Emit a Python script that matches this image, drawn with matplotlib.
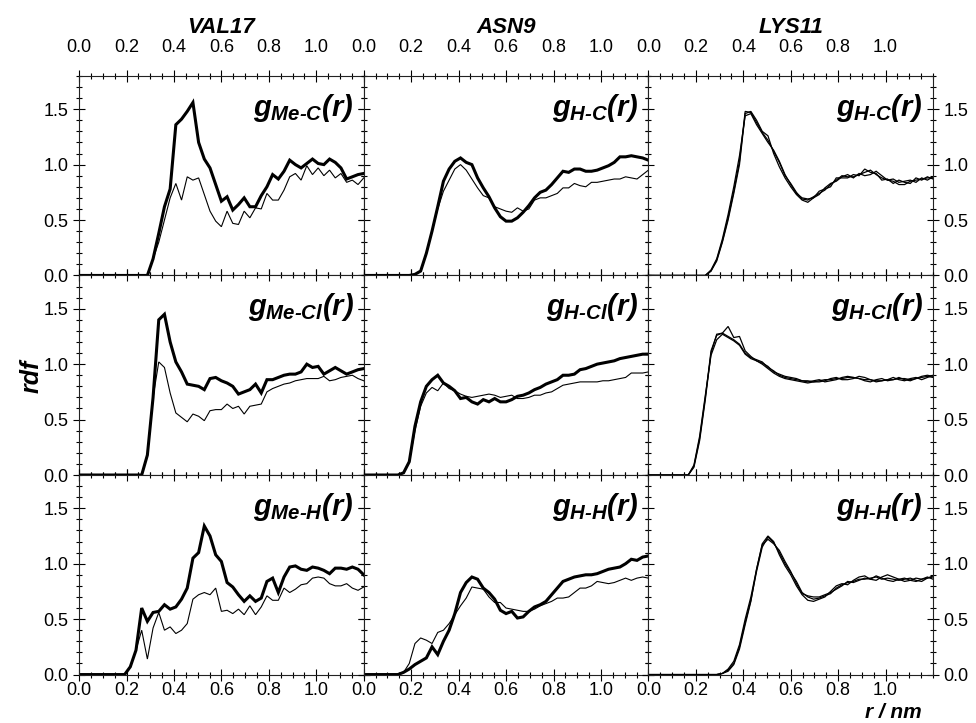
import numpy as np
import matplotlib
matplotlib.use('Agg')
import matplotlib.pyplot as plt
from matplotlib.ticker import MultipleLocator, FixedLocator, FormatStrFormatter

plt.rcParams['font.family'] = ['Liberation Sans', 'DejaVu Sans']
plt.rcParams['mathtext.fontset'] = 'custom'
plt.rcParams['mathtext.it'] = 'Liberation Sans:bold:italic'
plt.rcParams['mathtext.rm'] = 'Liberation Sans:bold:italic'
plt.rcParams['mathtext.bf'] = 'Liberation Sans:bold:italic'

# r bins (nm)
R = np.linspace(0.0, 1.2, 51)

COLUMNS = ['VAL17', 'ASN9', 'LYS11']

# VAL17
val_mec_a = [0.0] * 13 + [.15, .38, .62, .78, 1.36, 1.41, 1.48, 1.56, 1.20, 1.05, .97, .82, .67, .71, .59, .64,
                          .70, .62, .62, .72, .80, .91, .87, .94, 1.04, 1.0, .97, 1.01, 1.05, 1.01, 1.0, 1.05,
                          1.02, .97, .87, .89, .91, .92]
val_mec_b = [0.0] * 13 + [.15, .30, .50, .70, .83, .68, .89, .86, .88, .73, .58, .49, .44, .58, .47, .46,
                          .58, .52, .61, .60, .74, .68, .68, .77, .89, .92, .86, .99, .91, .97, .90, .95,
                          .88, .92, .84, .86, .82, .88]
val_mecl_a = [0.0] * 12 + [.18, .70, 1.40, 1.45, 1.20, 1.02, .93, .82, .81, .80, .77, .87, .88, .85, .83, .80,
                           .73, .75, .77, .82, .74, .86, .86, .88, .90, .91, .91, .93, 1.0, .97, .98, .91,
                           .94, .97, .94, .91, .93, .95, .96]
val_mecl_b = [0.0] * 12 + [.18, .70, 1.02, .97, .74, .56, .52, .48, .55, .53, .49, .58, .59, .59, .64, .60,
                           .62, .55, .62, .63, .64, .75, .78, .80, .82, .83, .85, .86, .87, .87, .87, .89,
                           .85, .86, .88, .89, .90, .87, .85]
val_meh_a = [0.0] * 9 + [.07, .22, .60, .48, .56, .57, .63, .59, .61, .68, .78, 1.05, 1.10, 1.34, 1.25, 1.08,
                         1.02, .83, .79, .72, .66, .71, .66, .69, .84, .87, .74, .88, .97, .98, .95, .94,
                         .97, .96, .94, .91, .96, .96, .95, .97, .95, .90]
val_meh_b = [0.0] * 9 + [.07, .22, .40, .14, .42, .56, .40, .43, .37, .40, .46, .68, .72, .74, .72, .78,
                         .57, .58, .55, .59, .54, .62, .54, .61, .71, .67, .67, .78, .74, .77, .81, .82,
                         .87, .88, .87, .82, .80, .80, .82, .78, .76, .79]

# ASN9
asn_hc_a = [0.0] * 9 + [.01, .04, .20, .40, .62, .85, .96, 1.03, 1.06, 1.02, 1.0, .88, .79, .71, .61, .53,
                        .49, .49, .52, .57, .63, .70, .75, .77, .82, .88, .94, .93, .96, .96, .94, .94,
                        .95, .97, .99, 1.02, 1.07, 1.07, 1.08, 1.07, 1.06, 1.04]
asn_hc_b = [0.0] * 9 + [.01, .04, .20, .40, .60, .76, .86, .96, 1.0, .95, .87, .79, .72, .70, .62, .60,
                        .58, .57, .61, .58, .60, .68, .70, .70, .72, .74, .79, .79, .83, .81, .80, .84,
                        .84, .85, .86, .87, .87, .89, .88, .87, .91, .95]
asn_hcl_a = [0.0] * 7 + [.02, .12, .44, .66, .80, .86, .90, .83, .80, .76, .69, .70, .66, .64, .68, .66,
                         .69, .66, .66, .68, .71, .72, .74, .77, .79, .82, .84, .86, .90, .90, .91, .95,
                         .96, .98, 1.0, 1.01, 1.02, 1.03, 1.05, 1.06, 1.07, 1.08, 1.09, 1.09]
asn_hcl_b = [0.0] * 7 + [.02, .12, .40, .62, .74, .79, .76, .83, .78, .76, .73, .71, .70, .71, .72, .73,
                         .72, .70, .71, .72, .69, .69, .70, .72, .72, .74, .75, .78, .81, .82, .83, .84,
                         .84, .84, .84, .85, .85, .86, .87, .88, .92, .92, .92, .93]
asn_hh_a = [0.0] * 7 + [.02, .05, .09, .12, .15, .25, .18, .30, .40, .55, .74, .83, .88, .86, .78, .74,
                        .68, .58, .55, .57, .51, .52, .57, .61, .63, .66, .72, .78, .84, .86, .88, .89,
                        .90, .90, .91, .93, .95, .96, .97, 1.0, 1.04, 1.03, 1.06, 1.07]
asn_hh_b = [0.0] * 7 + [.02, .10, .28, .33, .31, .28, .38, .40, .46, .54, .62, .69, .79, .78, .77, .70,
                        .65, .65, .60, .59, .58, .57, .57, .59, .62, .64, .66, .69, .69, .70, .74, .78,
                        .78, .80, .84, .83, .82, .83, .85, .87, .85, .87, .88, .87]

# LYS11 (three runs)
lys_hc_a = [0.0] * 11 + [.04, .14, .31, .52, .76, 1.03, 1.48, 1.47, 1.38, 1.29, 1.22, 1.12, 1.02, .90, .83, .75,
                         .69, .68, .71, .74, .77, .82, .86, .90, .89, .89, .91, .93, .95, .91, .88, .86,
                         .85, .82, .82, .85, .86, .87, .88, .88]
lys_hc_b = [0.0] * 11 + [.04, .13, .30, .50, .74, 1.00, 1.46, 1.48, 1.40, 1.30, 1.26, 1.10, .98, .88, .80, .73,
                         .68, .66, .70, .76, .78, .80, .88, .88, .88, .91, .90, .96, .93, .92, .86, .87,
                         .83, .86, .84, .83, .88, .86, .89, .87]
lys_hc_c = [0.0] * 11 + [.05, .15, .33, .55, .80, 1.08, 1.44, 1.46, 1.36, 1.28, 1.20, 1.13, 1.03, .91, .82, .74,
                         .70, .69, .70, .73, .79, .83, .85, .89, .91, .88, .92, .90, .91, .94, .90, .86,
                         .87, .84, .85, .86, .84, .88, .86, .89]
lys_hcl_a = [0.0] * 8 + [.08, .33, .70, 1.12, 1.26, 1.28, 1.25, 1.22, 1.18, 1.10, 1.06, 1.04, 1.02, .97, .94, .90,
                         .88, .87, .86, .85, .85, .84, .85, .86, .86, .87, .87, .88, .88, .87, .86, .86,
                         .85, .85, .86, .86, .87, .87, .86, .87, .88, .89, .88]
lys_hcl_b = [0.0] * 8 + [.07, .31, .68, 1.10, 1.27, 1.28, 1.34, 1.24, 1.25, 1.12, 1.07, 1.03, 1.01, .98, .93, .91,
                         .89, .88, .87, .85, .84, .85, .86, .84, .85, .86, .88, .89, .88, .87, .85, .84,
                         .86, .87, .85, .86, .88, .86, .85, .87, .89, .90, .89]
lys_hcl_c = [0.0] * 8 + [.09, .35, .72, 1.08, 1.22, 1.27, 1.24, 1.21, 1.17, 1.09, 1.05, 1.03, 1.0, .96, .92, .89,
                         .87, .86, .85, .84, .83, .84, .84, .85, .87, .88, .86, .86, .87, .89, .88, .86,
                         .84, .85, .86, .88, .86, .85, .87, .88, .86, .88, .90]
lys_hh_a = [0.0] * 13 + [.01, .04, .10, .25, .47, .67, .93, 1.15, 1.24, 1.19, 1.10, 1.0, .92, .84, .74, .70,
                         .68, .69, .71, .73, .78, .81, .83, .84, .86, .86, .87, .88, .86, .87, .86, .85,
                         .86, .87, .85, .84, .87, .88]
lys_hh_b = [0.0] * 13 + [.01, .03, .09, .23, .45, .66, .95, 1.18, 1.25, 1.20, 1.08, .98, .90, .80, .72, .67,
                         .66, .68, .70, .75, .80, .82, .81, .85, .88, .89, .86, .85, .88, .90, .88, .86,
                         .84, .85, .87, .86, .88, .86]
lys_hh_c = [0.0] * 13 + [.01, .05, .12, .27, .50, .70, .95, 1.17, 1.22, 1.18, 1.12, 1.02, .93, .82, .73, .71,
                         .70, .70, .72, .74, .77, .80, .84, .83, .85, .87, .86, .89, .87, .85, .84, .86,
                         .87, .85, .84, .86, .87, .89]

PANEL_LABELS = [
    [r'$g_{\text{Me-C}}(r)$', r'$g_{\text{H-C}}(r)$', r'$g_{\text{H-C}}(r)$'],
    [r'$g_{\text{Me-Cl}}(r)$', r'$g_{\text{H-Cl}}(r)$', r'$g_{\text{H-Cl}}(r)$'],
    [r'$g_{\text{Me-H}}(r)$', r'$g_{\text{H-H}}(r)$', r'$g_{\text{H-H}}(r)$'],
]

# (values, linewidth) per panel
PANELS = [
    [[(val_mec_a, 2.2), (val_mec_b, 0.8)],
     [(asn_hc_a, 2.2), (asn_hc_b, 0.8)],
     [(lys_hc_a, 0.9), (lys_hc_b, 0.9), (lys_hc_c, 0.9)]],
    [[(val_mecl_a, 2.2), (val_mecl_b, 0.8)],
     [(asn_hcl_a, 2.2), (asn_hcl_b, 0.8)],
     [(lys_hcl_a, 0.9), (lys_hcl_b, 0.9), (lys_hcl_c, 0.9)]],
    [[(val_meh_a, 2.2), (val_meh_b, 0.8)],
     [(asn_hh_a, 2.2), (asn_hh_b, 0.8)],
     [(lys_hh_a, 0.9), (lys_hh_b, 0.9), (lys_hh_c, 0.9)]],
]

fig = plt.figure(figsize=(9.76, 7.23), dpi=100)
axes = fig.subplots(3, 3, gridspec_kw=dict(wspace=0, hspace=0, left=0.081, right=0.956,
                                            top=0.895, bottom=0.067))

for i in range(3):
    for j in range(3):
        ax = axes[i, j]
        for vals, lw in PANELS[i][j]:
            assert len(vals) == len(R)
            ax.plot(R, vals, color='black', lw=lw, solid_joinstyle='miter')
        ax.set_xlim(0, 1.2)
        ax.set_ylim(0, 1.8)
        ax.xaxis.set_major_locator(FixedLocator([0.0, 0.2, 0.4, 0.6, 0.8, 1.0]))
        ax.xaxis.set_minor_locator(MultipleLocator(0.05))
        ax.yaxis.set_major_locator(FixedLocator([0.0, 0.5, 1.0, 1.5]))
        ax.yaxis.set_minor_locator(MultipleLocator(0.1))
        ax.tick_params(which='both', direction='inout', top=True, right=True, bottom=True, left=True,
                       width=0.8, labelsize=13,
                       labelbottom=(i == 2), labeltop=(i == 0),
                       labelleft=(j == 0), labelright=(j == 2))
        ax.tick_params(which='major', length=8)
        ax.tick_params(which='minor', length=4)
        ax.tick_params(axis='x', which='major', pad=1.5)
        ax.xaxis.set_major_formatter(FormatStrFormatter('%.1f'))
        ax.yaxis.set_major_formatter(FormatStrFormatter('%.1f'))
        for s in ax.spines.values():
            s.set_linewidth(0.8)
            s.set_color('#222222')
        ax.text(0.965, 0.8, PANEL_LABELS[i][j], transform=ax.transAxes, ha='right', va='baseline',
                fontsize=21)
        if i == 0:
            ax.xaxis.set_tick_params(which='major', pad=10)
            ax.set_title(COLUMNS[j], fontsize=16, fontweight='bold', fontstyle='italic', pad=5)

fig.text(0.032, 0.48, 'rdf', rotation=90, fontsize=18, fontweight='bold', fontstyle='italic',
         ha='center', va='center')
fig.text(0.915, 0.001, 'r / nm', fontsize=15, fontweight='bold', fontstyle='italic',
         ha='center', va='bottom')

fig.savefig('out.png', dpi=100)
